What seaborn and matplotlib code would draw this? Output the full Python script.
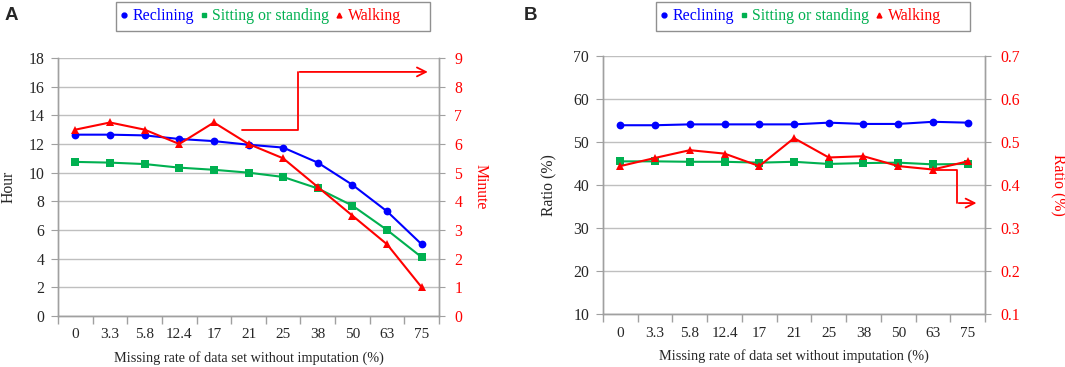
import numpy as np
import pandas as pd
import matplotlib.pyplot as plt
import seaborn as sns
from matplotlib.lines import Line2D
from matplotlib.patches import Rectangle

# ---- data ----
rates = ['0', '3.3', '5.8', '12.4', '17', '21', '25', '38', '50', '63', '75']

hours_reclining = [12.65, 12.65, 12.6, 12.35, 12.2, 11.95, 11.75, 10.7, 9.15, 7.3, 5.0]
hours_sitting = [10.75, 10.7, 10.6, 10.35, 10.2, 10.0, 9.7, 8.9, 7.7, 6.0, 4.1]
minutes_walking = [6.5, 6.75, 6.5, 6.0, 6.75, 6.0, 5.5, 4.5, 3.5, 2.5, 1.0]

ratio_reclining = [53.9, 53.9, 54.1, 54.1, 54.1, 54.1, 54.5, 54.2, 54.2, 54.7, 54.5]
ratio_sitting = [45.5, 45.5, 45.4, 45.4, 45.2, 45.4, 44.9, 45.1, 45.2, 44.8, 44.9]
ratio_walking = [0.444, 0.463, 0.481, 0.473, 0.444, 0.509, 0.464, 0.467, 0.444, 0.436, 0.455]

labels = ['Reclining', 'Sitting or standing', 'Walking']
BLUE, GREEN, RED = '#0000FF', '#00B050', '#FF0000'
GRID, SPINE = '#bfbfbf', '#a0a0a0'

sns.set_style("white")
plt.rcParams['font.family'] = ['Liberation Serif', 'DejaVu Serif']

W, H = 1065, 367
fig = plt.figure(figsize=(W / 100, H / 100), dpi=100)
axA = fig.add_axes([0.0545, 0.139, 0.3577, 0.703])
axB = fig.add_axes([0.5662, 0.1444, 0.3587, 0.703])

pos = np.arange(len(rates))


def style_axes(ax, ax2, ylim, yticks, ylim2, yticks2, ylabel, ylabel2, fmt2, xl, xr):
    ax.set_xlim(-0.5, len(rates) - 0.5)
    ax.set_ylim(*ylim)
    ax.set_yticks(yticks)
    ax2.set_ylim(*ylim2)
    ax2.set_yticks(yticks2)
    ax2.set_yticklabels([fmt2(v) for v in yticks2])
    ax.set_xticks(pos)
    ax.set_xticklabels(rates)
    ax.set_xticks(np.arange(-0.5, len(rates)), minor=True)
    ax.tick_params(axis='x', which='major', length=0, pad=9, labelsize=11)
    ax.tick_params(axis='x', which='minor', length=6, color=SPINE, width=1,
                   direction='out', bottom=True)
    ax.tick_params(axis='y', length=5, color=SPINE, direction='out', labelsize=11.3,
                   left=True, pad=5)
    ax2.tick_params(axis='y', length=4, color=SPINE, direction='out', labelsize=11.3,
                    labelcolor=RED, right=True, pad=7)
    ax.grid(axis='y', color=GRID, linewidth=1)
    ax.set_axisbelow(True)
    for a in (ax, ax2):
        a.spines['top'].set_visible(False)
        for s in ('left', 'right', 'bottom'):
            a.spines[s].set_color(SPINE)
            a.spines[s].set_linewidth(1)
    ax.set_xlabel('Missing rate of data set without imputation (%)', fontsize=10.3)
    ax.xaxis.set_label_coords(0.5, -0.163)
    ax.xaxis.label.set_va('center')
    ax.set_ylabel(ylabel, fontsize=11.3)
    ax.yaxis.set_label_coords(xl, 0.5)
    ax.yaxis.label.set_va('center')
    ax2.set_ylabel(ylabel2, fontsize=11.3, color=RED, rotation=-90)
    ax2.yaxis.set_label_coords(xr, 0.5)
    ax2.yaxis.label.set_va('center')


def draw(ax, ax2, s1, s2, s3):
    df = pd.DataFrame({'pos': pos, 'a': s1, 'b': s2, 'c': s3})
    kw = dict(markersize=5.6, markeredgewidth=0, linewidth=1.5)
    sns.lineplot(data=df, x='pos', y='a', ax=ax, color=BLUE, marker='o', **kw)
    sns.lineplot(data=df, x='pos', y='b', ax=ax, color=GREEN, marker='s', **kw)
    sns.lineplot(data=df, x='pos', y='c', ax=ax2, color=RED, marker='^', **kw)


def legend(left_px, right_px):
    # Excel-style box: wider than its entries, with empty space on the right
    fig.patches.append(Rectangle((left_px / W, 1 - 31 / H), (right_px - left_px) / W, 29 / H,
                                 transform=fig.transFigure, fill=False,
                                 edgecolor='#909090', linewidth=1))
    handles = [Line2D([], [], color=c, marker=m, linestyle='none', markersize=3.5)
               for c, m in ((BLUE, 'o'), (GREEN, 's'), (RED, '^'))]
    fig.legend(handles, labels, loc='center left',
               bbox_to_anchor=((left_px + 4) / W, 1 - 16.5 / H),
               ncol=3, frameon=False, fontsize=11.4, handlelength=0.5,
               handletextpad=0.3, columnspacing=0.35, borderpad=0, borderaxespad=0,
               labelcolor=[BLUE, GREEN, RED])


# ---- panel A ----
axA2 = axA.twinx()
draw(axA, axA2, hours_reclining, hours_sitting, minutes_walking)
style_axes(axA, axA2, (0, 18), np.arange(0, 19, 2), (0, 9), np.arange(0, 10, 1),
           'Hour', 'Minute', lambda v: f'{v:g}', -0.131, 1.108)
# bent arrow telling that Walking uses the right axis
axA2.plot([0.483, 0.63, 0.63], [0.721, 0.721, 0.946], transform=axA2.transAxes,
          color=RED, linewidth=1.3, clip_on=False)
axA2.annotate('', xy=(0.978, 0.946), xytext=(0.627, 0.946), xycoords='axes fraction',
              arrowprops=dict(arrowstyle='->', color=RED, lw=1.3, mutation_scale=16))
legend(116, 430)

# ---- panel B ----
axB2 = axB.twinx()
draw(axB, axB2, ratio_reclining, ratio_sitting, ratio_walking)
style_axes(axB, axB2, (10, 70), np.arange(10, 71, 10), (0.1, 0.7),
           np.round(np.arange(0.1, 0.71, 0.1), 1), 'Ratio (%)', 'Ratio (%)',
           lambda v: f'{v:.1f}', -0.141, 1.191)
axB2.plot([0.864, 0.927, 0.927], [0.558, 0.558, 0.43], transform=axB2.transAxes,
          color=RED, linewidth=1.3, clip_on=False)
axB2.annotate('', xy=(0.985, 0.43), xytext=(0.924, 0.43), xycoords='axes fraction',
              arrowprops=dict(arrowstyle='->', color=RED, lw=1.3, mutation_scale=16))
legend(656, 970)

fig.text(0.004, 0.982, 'A', fontsize=13.5, fontweight='bold', family='Liberation Sans', va='top')
fig.text(0.492, 0.982, 'B', fontsize=13.5, fontweight='bold', family='Liberation Sans', va='top')

fig.savefig('out.png', dpi=100)
